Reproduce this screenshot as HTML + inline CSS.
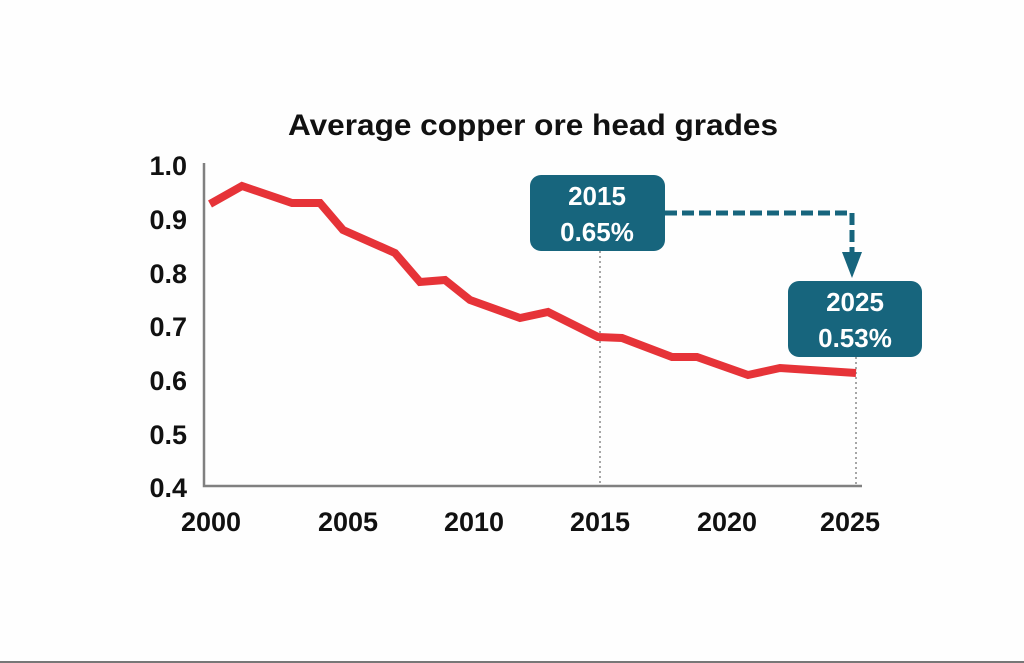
<!DOCTYPE html>
<html><head><meta charset="utf-8"><style>
html,body{margin:0;padding:0;background:#fff;}
svg{display:block;}
text{font-family:"Liberation Sans",Arial,sans-serif;font-weight:bold;}
</style></head><body>
<svg width="1024" height="663" viewBox="0 0 1024 663" xmlns="http://www.w3.org/2000/svg">
<rect width="1024" height="663" fill="#fefefe"/>
<rect x="0" y="661" width="1024" height="2" fill="#777"/>
<text x="533" y="135" font-size="30" text-anchor="middle" fill="#111" textLength="490" lengthAdjust="spacingAndGlyphs">Average copper ore head grades</text>
<g font-size="27" fill="#111" text-anchor="end">
<text x="187" y="175">1.0</text>
<text x="187" y="229">0.9</text>
<text x="187" y="283">0.8</text>
<text x="187" y="336">0.7</text>
<text x="187" y="390">0.6</text>
<text x="187" y="444">0.5</text>
<text x="187" y="497">0.4</text>
</g>
<g font-size="27" fill="#111" text-anchor="middle">
<text x="211" y="531">2000</text>
<text x="348" y="531">2005</text>
<text x="474" y="531">2010</text>
<text x="600" y="531">2015</text>
<text x="727" y="531">2020</text>
<text x="850" y="531">2025</text>
</g>
<line x1="600" y1="251" x2="600" y2="486" stroke="#888" stroke-width="1.5" stroke-dasharray="2,3"/>
<line x1="856" y1="357" x2="856" y2="486" stroke="#888" stroke-width="1.5" stroke-dasharray="2,3"/>
<polyline points="204,163 204,486 862,486" fill="none" stroke="#808080" stroke-width="2.5"/>
<polyline points="210,204 242,186 292,203 320,203 343,230 395,253 420,282 445,280 470,300 520,318 548,312 598,337 622,338 672,357 697,357 748,375 780,368 856,373" fill="none" stroke="#e63338" stroke-width="8" stroke-linejoin="miter"/>
<polyline points="665,213 852,213 852,258" fill="none" stroke="#17657d" stroke-width="5" stroke-dasharray="12,5"/>
<polygon points="842,252 862,252 852,278" fill="#17657d"/>
<rect x="530" y="175" width="135" height="76" rx="11" fill="#17657d"/>
<rect x="788" y="281" width="134" height="76" rx="11" fill="#17657d"/>
<g font-size="26" fill="#fff" text-anchor="middle">
<text x="597" y="205">2015</text>
<text x="597" y="241">0.65%</text>
<text x="855" y="311">2025</text>
<text x="855" y="347">0.53%</text>
</g>
</svg>
</body></html>
